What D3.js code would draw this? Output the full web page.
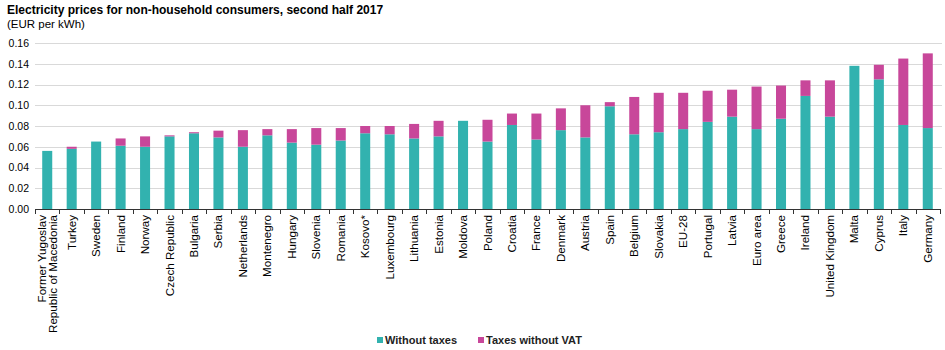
<!DOCTYPE html>
<html><head><meta charset="utf-8">
<script src="https://cdn.jsdelivr.net/npm/d3@7"></script>
<style>body{margin:0;background:#fff;font-family:Arial,"Liberation Sans",sans-serif}</style>
</head><body><svg id="c" width="945" height="350"></svg>
<script>
const categories = ["Former Yugoslav\nRepublic of Macedonia","Turkey","Sweden","Finland","Norway","Czech Republic","Bulgaria","Serbia","Netherlands","Montenegro","Hungary","Slovenia","Romania","Kosovo*","Luxembourg","Lithuania","Estonia","Moldova","Poland","Croatia","France","Denmark","Austria","Spain","Belgium","Slovakia","EU-28","Portugal","Latvia","Euro area","Greece","Ireland","United Kingdom","Malta","Cyprus","Italy","Germany"];
const withoutTaxes = [0.056,0.058,0.065,0.061,0.060,0.070,0.073,0.069,0.060,0.071,0.064,0.062,0.066,0.073,0.072,0.068,0.070,0.085,0.065,0.081,0.067,0.076,0.069,0.099,0.072,0.074,0.077,0.084,0.089,0.077,0.087,0.109,0.089,0.138,0.125,0.081,0.078];
const taxesWithoutVAT = [0.000,0.002,0.000,0.007,0.010,0.001,0.001,0.0065,0.016,0.006,0.013,0.016,0.012,0.007,0.008,0.014,0.015,0.000,0.021,0.011,0.025,0.021,0.031,0.004,0.036,0.038,0.035,0.030,0.026,0.041,0.032,0.015,0.035,0.000,0.014,0.064,0.072];
const yTicks = [0,0.02,0.04,0.06,0.08,0.10,0.12,0.14,0.16];
const seriesNames = ["Without taxes","Taxes without VAT"];
const colors = ["#32b2af","#c8479a"];

const svg = d3.select("#c");
const x = d3.scaleBand().domain(categories).range([35,940]).paddingInner(0.59).paddingOuter(0.295);
const y = d3.scaleLinear().domain([0,0.16]).range([209,43]);

svg.append("text").attr("x",7).attr("y",14).attr("font-size",12).attr("font-weight","bold").attr("fill","#000")
  .text("Electricity prices for non-household consumers, second half 2017");
svg.append("text").attr("x",7).attr("y",28).attr("font-size",11.5).attr("fill","#000").text("(EUR per kWh)");

// grid
svg.append("g").selectAll("line").data(yTicks.slice(1)).join("line")
  .attr("x1",35).attr("x2",942).attr("y1",d=>Math.round(y(d))+0.5).attr("y2",d=>Math.round(y(d))+0.5)
  .attr("stroke","#d9d9d9").attr("stroke-width",1);

const yAxis = svg.append("g").attr("transform","translate(35,0)")
  .call(d3.axisLeft(y).tickValues(yTicks).tickFormat(d3.format(".2f")).tickSize(0).tickPadding(6));
yAxis.select(".domain").remove();
yAxis.selectAll("text").attr("font-size",10.5).attr("fill","#000").attr("font-family","Arial,'Liberation Sans',sans-serif");

const stack = categories.map((c,i)=>({c, a:withoutTaxes[i], b:taxesWithoutVAT[i]}));
const g = svg.append("g");
g.selectAll("rect.a").data(stack).join("rect").attr("class","a")
  .attr("x",d=>x(d.c)).attr("width",x.bandwidth())
  .attr("y",d=>y(d.a)).attr("height",d=>y(0)-y(d.a)).attr("fill",colors[0]);
g.selectAll("rect.b").data(stack.filter(d=>d.b>0)).join("rect").attr("class","b")
  .attr("x",d=>x(d.c)).attr("width",x.bandwidth())
  .attr("y",d=>y(d.a+d.b)).attr("height",d=>y(d.a)-y(d.a+d.b)).attr("fill",colors[1]);

// x axis with ticks between categories
const step = x.step();
const xa = svg.append("g");
xa.append("line").attr("x1",35).attr("x2",941).attr("y1",209.5).attr("y2",209.5).attr("stroke","#333");
xa.selectAll("line.t").data(d3.range(categories.length+1)).join("line").attr("class","t")
  .attr("x1",i=>Math.round(35+i*step)+0.5).attr("x2",i=>Math.round(35+i*step)+0.5)
  .attr("y1",209).attr("y2",214).attr("stroke","#333");
const labs = xa.selectAll("text").data(categories).join("text")
  .attr("transform",d=>`translate(${x(d)+x.bandwidth()/2},215) rotate(-90)`)
  .attr("text-anchor","end").attr("font-size",11.6).attr("fill","#000");
labs.each(function(d){
  const lines = d.split("\n");
  const t = d3.select(this);
  lines.forEach((l,k)=>{
    t.append("tspan").attr("x",0).attr("dy", k===0 ? (lines.length>1 ? -1 : 4) : 10.5).text(l);
  });
});

// legend
const lg = svg.append("g");
const lx = [377,478];
seriesNames.forEach((n,i)=>{
  lg.append("rect").attr("x",lx[i]).attr("y",337).attr("width",6).attr("height",6).attr("fill",colors[i]);
  lg.append("text").attr("x",lx[i]+8).attr("y",344).attr("font-size",11).attr("font-weight","bold").attr("fill","#222").text(n);
});
</script></body></html>
